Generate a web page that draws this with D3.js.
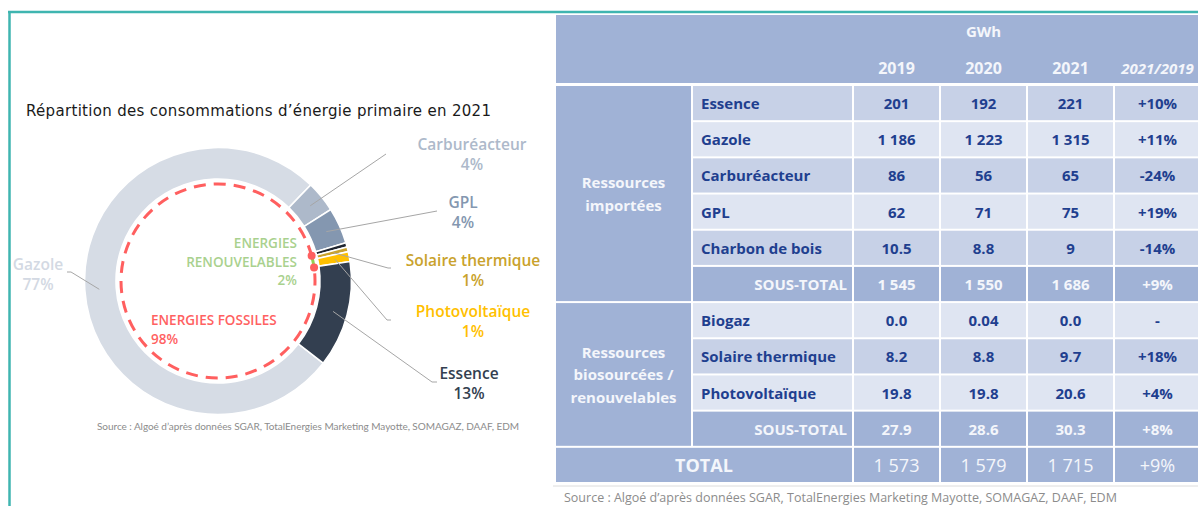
<!DOCTYPE html>
<html>
<meta charset="utf-8">

<!-- Load d3.js -->
<script src="https://d3js.org/d3.v7.min.js"></script>
<style>
  body { margin: 0; background: #fff; }
  svg text { font-family: "Open Sans", sans-serif; }
  .tbl { font-family: Lato, "Open Sans", sans-serif !important; }
</style>
<body>
<!-- Create a div where the graph will take place -->
<div id="my_dataviz"></div>

<script>

    // ---- data ----
    var chartTitle = "Répartition des consommations d’énergie primaire en 2021";
    var sourceText = "Source : Algoé d’après données SGAR, TotalEnergies Marketing Mayotte, SOMAGAZ, DAAF, EDM";

    var unitTitle = "GWh";
    var years = ["2019", "2020", "2021"];
    var ratioTitle = "2021/2019";

    var importGroup = ["Ressources", "importées"];
    var importLabels = ["Essence", "Gazole", "Carburéacteur", "GPL", "Charbon de bois"];
    var import2019 = ["201", "1 186", "86", "62", "10.5"];
    var import2020 = ["192", "1 223", "56", "71", "8.8"];
    var import2021 = ["221", "1 315", "65", "75", "9"];
    var importRatio = ["+10%", "+11%", "-24%", "+19%", "-14%"];
    var importSubtotal = ["1 545", "1 550", "1 686", "+9%"];

    var renewGroup = ["Ressources", "biosourcées /", "renouvelables"];
    var renewLabels = ["Biogaz", "Solaire thermique", "Photovoltaïque"];
    var renew2019 = ["0.0", "8.2", "19.8"];
    var renew2020 = ["0.04", "8.8", "19.8"];
    var renew2021 = ["0.0", "9.7", "20.6"];
    var renewRatio = ["-", "+18%", "+4%"];
    var renewSubtotal = ["27.9", "28.6", "30.3", "+8%"];

    var subtotalLabel = "SOUS-TOTAL";
    var totalLabel = "TOTAL";
    var grandTotal = ["1 573", "1 579", "1 715", "+9%"];

    // donut slices, clockwise order as drawn, valued with the 2021 column
    var donutNames = ["Gazole", "Carburéacteur", "GPL", "Charbon de bois", "Solaire thermique", "Photovoltaïque", "Essence"];
    var donutLabelled = ["Gazole", "Carburéacteur", "GPL", "Solaire thermique", "Photovoltaïque", "Essence"];
    var renewNames = ["Solaire thermique", "Photovoltaïque"];
    var fossilTitle = "ENERGIES FOSSILES";
    var renewTitle = ["ENERGIES", "RENOUVELABLES"];

    // ---- styles ----
    var sliceColor = {
      "Gazole": "#d6dce5", "Carburéacteur": "#adb9ca", "GPL": "#8497b0",
      "Charbon de bois": "#1f2530", "Solaire thermique": "#c9a22c",
      "Photovoltaïque": "#ffc000", "Essence": "#333f50"
    };
    var labelColor = {
      "Gazole": "#d3d9e3", "Carburéacteur": "#adb9ca", "GPL": "#8497b0",
      "Solaire thermique": "#c9a22c", "Photovoltaïque": "#ffc000", "Essence": "#333f50"
    };
    // label anchor and leader end points
    var labelPos = {
      "Gazole":            {x: 38,  y: 264, lx: 71,  ly: 272, hx: 67},
      "Carburéacteur":     {x: 472, y: 144, lx: 386, ly: 154, hx: 386},
      "GPL":               {x: 463, y: 202, lx: 437, ly: 211, hx: 437},
      "Solaire thermique": {x: 473, y: 260, lx: 388, ly: 268, hx: 391},
      "Photovoltaïque":    {x: 473, y: 311, lx: 387, ly: 320, hx: 391},
      "Essence":           {x: 469, y: 373, lx: 432, ly: 382, hx: 437}
    };

    var W = 1198, H = 506;
    var svg = d3.select("#my_dataviz")
      .append("svg")
        .attr("width", W)
        .attr("height", H);

    // teal frame
    svg.append("line").attr("x1", 8).attr("x2", W).attr("y1", 12).attr("y2", 12)
      .style("stroke", "#3fb5b0").style("stroke-width", 2.5);
    svg.append("line").attr("x1", 9.5).attr("x2", 9.5).attr("y1", 11).attr("y2", H)
      .style("stroke", "#3fb5b0").style("stroke-width", 2.5);

    // title
    svg.append("text")
      .attr("x", 26).attr("y", 116)
      .attr("textLength", 465)
      .style("font-family", "'DejaVu Sans', sans-serif")
      .style("font-size", "15px")
      .style("fill", "#1a1a1a")
      .text(chartTitle);

    // ---------------- donut ----------------
    var valueOf = {};
    importLabels.forEach(function(n, i) { valueOf[n] = +import2021[i].replace(/\s/g, ""); });
    renewLabels.forEach(function(n, i) { valueOf[n] = +renew2021[i].replace(/\s/g, ""); });
    var slices = donutNames.map(function(n) { return {name: n, value: valueOf[n]}; });
    var total = d3.sum(slices, function(d) { return d.value; });

    var cx = 218, cy = 281, rOut = 133.5, rIn = 102, rDash = 97;
    var startA = 128 * Math.PI / 180;

    var pie = d3.pie().sort(null).value(function(d) { return d.value; })
        .startAngle(startA).endAngle(startA + 2 * Math.PI);
    var arcs = pie(slices);
    var arc = d3.arc().innerRadius(rIn).outerRadius(rOut);
    var mid = d3.arc().innerRadius(119).outerRadius(119);

    var g = svg.append("g").attr("transform", "translate(" + cx + "," + cy + ")");

    g.selectAll("path.slice")
      .data(arcs)
      .enter()
      .append("path")
        .attr("class", "slice")
        .attr("d", arc)
        .style("fill", function(d) { return sliceColor[d.data.name]; })
        .style("stroke", "#fff")
        .style("stroke-width", 1.6);

    // leader lines
    var labelled = arcs.filter(function(d) { return donutLabelled.indexOf(d.data.name) >= 0; });
    g.selectAll("polyline")
      .data(labelled)
      .enter()
      .append("polyline")
        .attr("points", function(d) {
          var c = mid.centroid(d), p = labelPos[d.data.name];
          return [c, [p.lx - cx, p.ly - cy], [p.hx - cx, p.ly - cy]].join(" ");
        })
        .style("fill", "none")
        .style("stroke", "#a6a6a6")
        .style("stroke-width", 1);

    // slice labels
    var lab = svg.selectAll("g.lab")
      .data(labelled)
      .enter()
      .append("g").attr("class", "lab");
    lab.append("text")
      .attr("x", function(d) { return labelPos[d.data.name].x; })
      .attr("y", function(d) { return labelPos[d.data.name].y; })
      .attr("text-anchor", "middle").attr("dominant-baseline", "central")
      .style("font-size", "15.5px").style("font-weight", 600)
      .style("fill", function(d) { return labelColor[d.data.name]; })
      .text(function(d) { return d.data.name; });
    lab.append("text")
      .attr("x", function(d) { return labelPos[d.data.name].x; })
      .attr("y", function(d) { return labelPos[d.data.name].y + 20; })
      .attr("text-anchor", "middle").attr("dominant-baseline", "central")
      .style("font-size", "15.5px").style("font-weight", 600)
      .style("fill", function(d) { return labelColor[d.data.name]; })
      .text(function(d) { return Math.round(d.value / total * 100) + "%"; });

    // dashed fossil / renewable ring
    var renewValue = d3.sum(renewNames, function(n) { return valueOf[n]; });
    var renewPct = Math.round(renewValue / total * 100);
    var fossilPct = 100 - renewPct;
    var renewArcs = arcs.filter(function(d) { return renewNames.indexOf(d.data.name) >= 0; });
    var renewMid = (d3.min(renewArcs, function(d) { return d.startAngle; }) +
                    d3.max(renewArcs, function(d) { return d.endAngle; })) / 2;
    var halfRenew = renewPct / 100 * Math.PI;
    var ringData = d3.pie().sort(null).value(function(d) { return d.v; })
        .startAngle(renewMid - halfRenew).endAngle(renewMid - halfRenew + 2 * Math.PI)
        ([{k: "renew", v: renewPct}, {k: "fossil", v: fossilPct}]);

    function ringPath(d) {
      var p = d3.path();
      p.arc(0, 0, rDash, d.startAngle - Math.PI / 2, d.endAngle - Math.PI / 2, false);
      return p.toString();
    }
    g.selectAll("path.ring")
      .data(ringData)
      .enter()
      .append("path")
        .attr("class", "ring")
        .attr("d", ringPath)
        .style("fill", "none")
        .style("stroke", function(d) { return d.data.k == "renew" ? "#92d050" : "#ff5f5f"; })
        .style("stroke-width", 3)
        .style("stroke-dasharray", function(d) { return d.data.k == "renew" ? null : "12 8"; })
        .style("stroke-dashoffset", -6);
    // red dots at the borders
    g.selectAll("circle.dot")
      .data([ringData[0].startAngle, ringData[0].endAngle])
      .enter()
      .append("circle")
        .attr("cx", function(a) { return rDash * Math.sin(a); })
        .attr("cy", function(a) { return -rDash * Math.cos(a); })
        .attr("r", 4)
        .style("fill", "#ff5f5f");

    svg.append("text")
      .attr("x", 297).attr("text-anchor", "end")
      .style("font-size", "13.5px").style("font-weight", 600).style("fill", "#a9d18e")
      .selectAll("tspan")
      .data(renewTitle.concat([renewPct + "%"]))
      .enter().append("tspan")
        .attr("x", 297)
        .attr("y", function(d, i) { return 248 + i * 18.5; })
        .text(function(d) { return d; });

    svg.append("text")
      .attr("x", 151)
      .style("font-size", "13.5px").style("font-weight", 600).style("fill", "#ff6161")
      .selectAll("tspan")
      .data([fossilTitle, fossilPct + "%"])
      .enter().append("tspan")
        .attr("x", 151)
        .attr("y", function(d, i) { return 325 + i * 18.5; })
        .text(function(d) { return d; });

    svg.append("text")
      .attr("x", 308).attr("y", 430)
      .attr("text-anchor", "middle")
      .attr("textLength", 422)
      .attr("class", "tbl")
      .style("font-size", "10px").style("fill", "#8c8c8c")
      .text(sourceText);

    // ---------------- table ----------------
    var colW = [137, 161, 87, 87, 87, 87];
    var colX = [555];
    colW.forEach(function(w, i) { colX.push(colX[i] + w); });
    var headTop = 15, bodyTop = 85, bodyBottom = 483;

    var rows = [];
    importLabels.forEach(function(n, i) {
      rows.push({kind: i % 2 ? "light" : "mid", label: n, vals: [import2019[i], import2020[i], import2021[i], importRatio[i]]});
    });
    rows.push({kind: "sub", label: subtotalLabel, vals: importSubtotal});
    renewLabels.forEach(function(n, i) {
      rows.push({kind: i % 2 ? "mid" : "light", label: n, vals: [renew2019[i], renew2020[i], renew2021[i], renewRatio[i]]});
    });
    rows.push({kind: "sub", label: subtotalLabel, vals: renewSubtotal});
    rows.push({kind: "total", label: totalLabel, vals: grandTotal});

    var y = d3.scaleBand()
        .domain(d3.range(rows.length))
        .range([bodyTop, bodyBottom]);

    var fills = {head: "#a0b2d6", sub: "#a0b2d6", total: "#a0b2d6", mid: "#c7d1e7", light: "#dfe5f2"};
    var dark = "#1f3f8f";
    var tbl = svg.append("g").attr("class", "tbl");

    // header
    tbl.append("rect")
      .attr("x", colX[0] + 1).attr("y", headTop)
      .attr("width", W - colX[0]).attr("height", bodyTop - headTop - 2)
      .style("fill", fills.head);
    tbl.append("text")
      .attr("x", (colX[2] + colX[5]) / 2).attr("y", 31)
      .attr("text-anchor", "middle").attr("dominant-baseline", "central")
      .style("font-size", "15px").style("font-weight", 700).style("fill", "#f4f6fb")
      .text(unitTitle);
    tbl.selectAll("text.yr")
      .data(years.concat([ratioTitle]))
      .enter().append("text")
        .attr("class", "yr")
        .attr("x", function(d, i) { return (colX[i + 2] + colX[i + 3]) / 2; })
        .attr("y", 68)
        .attr("text-anchor", "middle").attr("dominant-baseline", "central")
        .style("font-size", function(d, i) { return i == 3 ? "15px" : "16px"; })
        .style("font-weight", 700)
        .style("font-style", function(d, i) { return i == 3 ? "italic" : "normal"; })
        .style("fill", "#f4f6fb")
        .text(function(d) { return d; });

    // group cells
    var groups = [
      {lines: importGroup, from: 0, to: importLabels.length},
      {lines: renewGroup, from: importLabels.length + 1, to: importLabels.length + renewLabels.length + 1}
    ];
    groups.forEach(function(gr) {
      var top = y(gr.from), bot = y(gr.to) + y.bandwidth();
      tbl.append("rect")
        .attr("x", colX[0] + 1).attr("y", top + 1)
        .attr("width", colW[0] - 2).attr("height", bot - top - 2)
        .style("fill", fills.head);
      var n = gr.lines.length;
      tbl.append("g").selectAll("text")
        .data(gr.lines)
        .enter().append("text")
          .attr("x", colX[0] + colW[0] / 2)
          .attr("y", function(d, i) { return (top + bot) / 2 + (i - (n - 1) / 2) * 22.5; })
          .attr("text-anchor", "middle").attr("dominant-baseline", "central")
          .style("font-size", "15px").style("font-weight", 700).style("fill", "#f4f6fb")
          .text(function(d) { return d; });
    });

    // body rows
    rows.forEach(function(r, ri) {
      var top = y(ri), h = y.bandwidth();
      var row = tbl.append("g");
      var light = r.kind == "sub" || r.kind == "total";
      var cells = [];
      if (r.kind == "total") {
        cells.push({x0: colX[0], x1: colX[2], text: r.label, anchor: "middle"});
      } else {
        cells.push({x0: colX[1], x1: colX[2], text: r.label, anchor: r.kind == "sub" ? "end" : "start"});
      }
      r.vals.forEach(function(v, i) {
        cells.push({x0: colX[i + 2], x1: colX[i + 3], text: v, anchor: "middle"});
      });
      row.selectAll("rect")
        .data(cells)
        .enter().append("rect")
          .attr("x", function(c) { return c.x0 + 1; })
          .attr("y", top + 1)
          .attr("width", function(c) { return Math.min(c.x1, W + 10) - c.x0 - 2; })
          .attr("height", h - 2)
          .style("fill", fills[r.kind]);
      row.selectAll("text")
        .data(cells)
        .enter().append("text")
          .attr("x", function(c) {
            if (c.anchor == "start") return c.x0 + 9;
            if (c.anchor == "end") return c.x1 - 6;
            return (c.x0 + c.x1) / 2;
          })
          .attr("y", top + h / 2)
          .attr("text-anchor", function(c) { return c.anchor; })
          .attr("dominant-baseline", "central")
          .style("font-size", r.kind == "total" ? "18px" : "15px")
          .style("font-weight", function(c, i) { return r.kind == "total" && i > 0 ? 400 : 700; })
          .style("fill", light ? "#f4f6fb" : dark)
          .text(function(c) { return c.text; });
    });

    // shadow line under the table
    tbl.append("line")
      .attr("x1", 553).attr("x2", W).attr("y1", bodyBottom + 3).attr("y2", bodyBottom + 3)
      .style("stroke", "#dcdcdc").style("stroke-width", 1);

    tbl.append("text")
      .attr("x", 564).attr("y", 502)
      .style("font-size", "12.5px").style("fill", "#8c8c8c")
      .text(sourceText);

</script>
</body>
</html>
